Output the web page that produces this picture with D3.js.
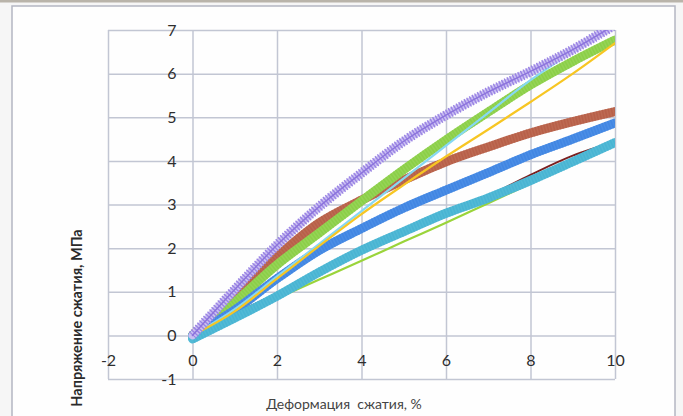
<!DOCTYPE html>
<html><head><meta charset="utf-8">
<script src="https://cdn.jsdelivr.net/npm/d3@7"></script>
<style>
html,body{margin:0;padding:0;background:#f6f6f6;}
svg{display:block;}
</style></head>
<body>
<script>
// Strain values (x), %
const strain = [0,1,2,3,4,5,6,7,8,9,10];
// Stress series, MPa
const purple = [0,1.05,2.07,2.95,3.72,4.45,5.05,5.58,6.05,6.55,7.12];
const green  = [0,0.76,1.62,2.35,3.08,3.8,4.48,5.12,5.74,6.28,6.77];
const cyan   = [0,0.6,1.35,2.1,2.85,3.6,4.35,5.1,5.85,6.5,7.05];
const yellow = [0,0.55,1.3,2.05,2.78,3.45,4.1,4.72,5.35,6.0,6.7];
const brown  = [0,0.88,1.8,2.58,3.1,3.56,3.98,4.32,4.64,4.9,5.13];
const blue   = [0,0.58,1.3,1.95,2.45,2.92,3.33,3.73,4.14,4.5,4.87];
const teal   = [-0.08,0.4,0.9,1.45,1.95,2.38,2.8,3.15,3.55,3.98,4.42];
const maroon = [0,0.5,0.96,1.47,1.97,2.4,2.82,3.2,3.68,4.12,4.44];
const lime   = [0,0.42,0.85,1.28,1.71,2.15,2.58,3.03,3.48,3.93,4.38];

const xTicks = [-2,0,2,4,6,8,10];
const yTicks = [-1,0,1,2,3,4,5,6,7];
const xTitle = "Деформация  сжатия, %";
const yTitle = "Напряжение сжатия, МПа";

const W = 683, H = 416;
const svg = d3.select("body").append("svg").attr("width", W).attr("height", H);

// outer frame
svg.append("rect").attr("x",0).attr("y",0).attr("width",W).attr("height",2.5).attr("fill","#b9b4aa");
svg.append("rect").attr("x",12).attr("y",6).attr("width",663).attr("height",420)
  .attr("fill","#fefefe").attr("stroke","#b4b6c2").attr("stroke-width",1.5);

const x = d3.scaleLinear().domain([-2,10]).range([108,615]);
const y = d3.scaleLinear().domain([-1,7]).range([379,30]);

// gridlines
const gx = svg.append("g").attr("transform",`translate(0,${y(-1)})`)
  .call(d3.axisBottom(x).tickValues(xTicks).tickSize(-(y(-1)-y(7))).tickFormat(""));
const gy = svg.append("g").attr("transform",`translate(${x(-2)},0)`)
  .call(d3.axisLeft(y).tickValues(yTicks).tickSize(-(x(10)-x(-2))).tickFormat(""));
[gx,gy].forEach(g=>{
  g.select(".domain").remove();
  g.selectAll("line").attr("stroke","#c2c6d3").attr("stroke-width",1.5);
});

// clip
svg.append("clipPath").attr("id","plot").append("rect")
  .attr("x",x(-2)).attr("y",y(7)).attr("width",x(10)-x(-2)).attr("height",y(-1)-y(7));
const plot = svg.append("g").attr("clip-path","url(#plot)");

const line = d3.line().x((d,i)=>x(strain[i])).y(d=>y(d)).curve(d3.curveCatmullRom.alpha(0.5));

function draw(vals, color, width, extra){
  const p = plot.append("path").attr("d", line(vals)).attr("fill","none")
    .attr("stroke", color).attr("stroke-width", width)
    .attr("stroke-linejoin","round").attr("stroke-linecap","round");
  if (extra) extra(p);
  return p;
}
const tex = p=>p.attr("stroke-dasharray","1.5 1.5").attr("stroke-linecap","butt").attr("opacity",0.6);

// bottom to top
draw(maroon, "#7a2020", 2);
draw(lime, "#9ad43a", 2.2);
draw(brown, "#bd6a52", 9);
draw(brown, "#b45a44", 9, tex);
draw(green, "#95d456", 9);
draw(green, "#85cc40", 9, tex);
draw(blue, "#4a8ee6", 9);
draw(blue, "#3d80e0", 9, tex);
draw(teal, "#52bad6", 9);
draw(teal, "#45b0d0", 9, tex);
draw(cyan, "#86d8f2", 2.2);
draw(yellow, "#f7c623", 2.2);
draw(purple, "#cbc0f2", 8);
draw(purple, "#9a84e4", 10, p=>p.attr("stroke-dasharray","1.4 1.6").attr("stroke-linecap","butt"));
draw(purple, "#8c74dc", 1.5);

// tick labels
const font = "Lato, 'Open Sans', sans-serif";
const ax = svg.append("g").attr("transform",`translate(0,${y(0)})`)
  .call(d3.axisBottom(x).tickValues(xTicks).tickSize(0).tickPadding(19).tickFormat(d3.format("d")));
const ay = svg.append("g").attr("transform",`translate(${x(0)},0)`)
  .call(d3.axisLeft(y).tickValues(yTicks).tickSize(0).tickPadding(16).tickFormat(d3.format("d")));
[ax,ay].forEach(g=>{
  g.select(".domain").remove();
  g.selectAll("text").attr("font-family",font).attr("font-size",16).attr("fill","#2e2e2e");
});
ay.selectAll("text").text(d=> d<0 ? "-"+Math.abs(d) : d);
ax.selectAll("text").text(d=> d<0 ? "-"+Math.abs(d) : d);

// axis titles
svg.append("text").attr("x",344).attr("y",409).attr("text-anchor","middle")
  .attr("font-family",font).attr("font-size",14).attr("fill","#444")
  .style("white-space","pre").text(xTitle);
svg.append("text").attr("transform","translate(82,318) rotate(-90)").attr("text-anchor","middle")
  .attr("font-family",font).attr("font-size",14.5).attr("font-weight","bold").attr("fill","#2a2a2a")
  .text(yTitle);
</script>
</body></html>
